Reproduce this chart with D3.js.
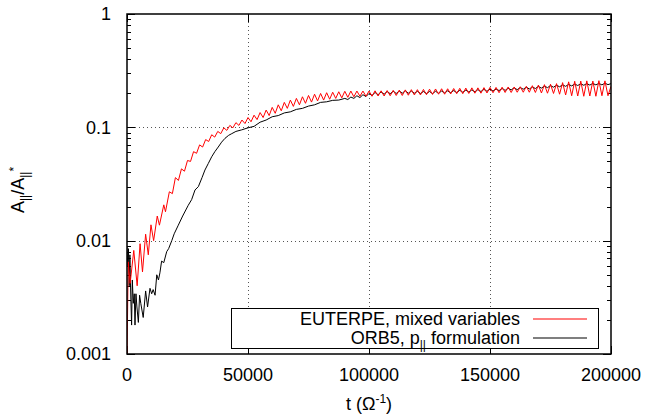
<!DOCTYPE html>
<html>
<head>
<meta charset="utf-8">
<script src="https://cdn.jsdelivr.net/npm/d3@7"></script>
<style>
  body { margin: 0; background: #fff; }
  text { font-family: "Liberation Sans", Arial, Helvetica, sans-serif; fill: #000; }
</style>
</head>
<body>
<div id="chart"></div>
<script>
// values: [t, A||/A||*]
var euterpe = [
  [0, 0.0009], [500, 0.0065], [1300, 0.0042], [2800, 0.0082], [4200, 0.0040],
  [5400, 0.0094], [6400, 0.0053], [7700, 0.0114], [8800, 0.0075], [9900, 0.0138],
  [11000, 0.0100], [12500, 0.0165], [13400, 0.0137], [15200, 0.0207], [15900, 0.0180],
  [17500, 0.027], [18750, 0.026], [20000, 0.036], [21250, 0.034], [22500, 0.043],
  [23750, 0.041], [25000, 0.051], [26250, 0.050], [27500, 0.061], [28750, 0.059],
  [30000, 0.070], [31250, 0.067], [32500, 0.078], [33750, 0.075], [35000, 0.086],
  [36250, 0.082], [37500, 0.092], [38750, 0.088], [40000, 0.099], [41250, 0.094],
  [42500, 0.104], [43750, 0.099], [45000, 0.110], [46250, 0.104], [47500, 0.116],
  [48750, 0.108], [50000, 0.122], [51250, 0.112], [52500, 0.128], [53750, 0.117],
  [55000, 0.135], [56250, 0.122], [57500, 0.142], [58750, 0.127], [60000, 0.150],
  [61250, 0.133], [62500, 0.158], [63750, 0.140], [65000, 0.166], [66250, 0.147],
  [67500, 0.174], [68750, 0.153], [70000, 0.180], [71250, 0.158], [72500, 0.186],
  [73750, 0.163], [75000, 0.191], [76250, 0.167], [77500, 0.196], [78750, 0.171],
  [80000, 0.199], [81250, 0.174], [82500, 0.202], [83750, 0.177], [85000, 0.204],
  [86250, 0.180], [87500, 0.206], [88750, 0.182], [90000, 0.208], [91250, 0.184],
  [92500, 0.209], [93750, 0.186], [95000, 0.209], [96250, 0.188], [97500, 0.209],
  [98750, 0.188], [100000, 0.209], [101250, 0.188], [102500, 0.210], [103750, 0.189],
  [105000, 0.210], [106250, 0.189], [107500, 0.211], [108750, 0.190], [110000, 0.212],
  [111250, 0.191], [112500, 0.213], [113750, 0.191], [115000, 0.214], [116250, 0.192],
  [117500, 0.215], [118750, 0.193], [120000, 0.215], [121250, 0.193], [122500, 0.216],
  [123750, 0.194], [125000, 0.217], [126250, 0.195], [127500, 0.218], [128750, 0.196],
  [130000, 0.219], [131250, 0.196], [132500, 0.219], [133750, 0.197], [135000, 0.220],
  [136250, 0.198], [137500, 0.221], [138750, 0.198], [140000, 0.222], [141250, 0.199],
  [142500, 0.223], [143750, 0.200], [145000, 0.223], [146250, 0.200], [147500, 0.224],
  [148750, 0.201], [150000, 0.225], [151250, 0.202], [152500, 0.225], [153750, 0.202],
  [155000, 0.226], [156250, 0.203], [157500, 0.227], [158750, 0.203], [160000, 0.227],
  [161250, 0.204], [162500, 0.228], [163750, 0.204], [165000, 0.230], [166250, 0.204],
  [167500, 0.233], [168750, 0.203], [170000, 0.236], [171250, 0.201], [172500, 0.238],
  [173750, 0.200], [175000, 0.240], [176250, 0.199], [177500, 0.243], [178750, 0.196],
  [180000, 0.248], [181250, 0.193], [182500, 0.252], [183750, 0.190], [185000, 0.255],
  [186250, 0.189], [187500, 0.256], [188750, 0.188], [190000, 0.257], [191250, 0.189],
  [192500, 0.256], [193750, 0.188], [195000, 0.258], [196250, 0.190], [197500, 0.257],
  [198750, 0.190], [200000, 0.230]
];

var orb5 = [
  [0, 0.0090], [300, 0.0060], [600, 0.0085], [900, 0.0040], [1200, 0.0075],
  [1600, 0.0030], [1900, 0.0018], [2200, 0.0045], [2600, 0.0028], [3000, 0.0034],
  [3300, 0.0018], [3700, 0.0034], [4100, 0.0026], [4700, 0.0019], [5200, 0.0033],
  [5700, 0.0028], [6700, 0.0021], [7700, 0.0036], [8500, 0.0026], [9500, 0.0038],
  [10200, 0.0034], [10800, 0.0037], [11600, 0.0033], [12300, 0.0050], [13000, 0.0045],
  [13600, 0.0052], [14300, 0.0066], [15200, 0.0064], [16400, 0.0080], [17200, 0.0085],
  [18500, 0.0100], [19500, 0.0115], [21200, 0.0137], [23000, 0.0165], [25300, 0.0205],
  [26700, 0.023], [28100, 0.028], [29500, 0.030], [31000, 0.036], [32200, 0.042],
  [33600, 0.048], [35000, 0.055], [36300, 0.061], [37700, 0.067], [39100, 0.074],
  [40500, 0.080], [42000, 0.085], [43300, 0.088], [45000, 0.092], [47400, 0.095],
  [50000, 0.099], [52500, 0.102], [55000, 0.111], [57500, 0.116], [60000, 0.124],
  [62500, 0.127], [65000, 0.134], [67500, 0.137], [70000, 0.144], [72500, 0.147],
  [75000, 0.154], [77500, 0.158], [80000, 0.166], [82500, 0.168], [85000, 0.173],
  [87500, 0.174], [90000, 0.180], [91250, 0.176], [92500, 0.185], [93750, 0.180],
  [95000, 0.190], [96250, 0.183], [97500, 0.194], [98750, 0.187], [100000, 0.199],
  [101250, 0.191], [102500, 0.203], [103750, 0.194], [105000, 0.205], [106250, 0.196],
  [107500, 0.207], [108750, 0.198], [110000, 0.208], [111250, 0.199], [112500, 0.209],
  [113750, 0.200], [115000, 0.210], [116250, 0.200], [117500, 0.209], [118750, 0.200],
  [120000, 0.208], [121250, 0.199], [122500, 0.207], [123750, 0.199], [125000, 0.207],
  [126250, 0.199], [127500, 0.208], [128750, 0.200], [130000, 0.209], [131250, 0.201],
  [132500, 0.210], [133750, 0.202], [135000, 0.211], [136250, 0.203], [137500, 0.212],
  [138750, 0.204], [140000, 0.213], [141250, 0.205], [142500, 0.214], [143750, 0.206],
  [145000, 0.215], [146250, 0.207], [147500, 0.216], [148750, 0.208], [150000, 0.217],
  [151250, 0.209], [152500, 0.218], [153750, 0.211], [155000, 0.220], [156250, 0.212],
  [157500, 0.221], [158750, 0.214], [160000, 0.223], [161250, 0.215], [162500, 0.224],
  [163750, 0.217], [165000, 0.226], [166250, 0.218], [167500, 0.227], [168750, 0.220],
  [170000, 0.229], [171250, 0.222], [172500, 0.231], [173750, 0.224], [175000, 0.233],
  [176250, 0.226], [177500, 0.235], [178750, 0.228], [180000, 0.237], [181250, 0.230],
  [182500, 0.239], [183750, 0.232], [185000, 0.241], [186250, 0.234], [187500, 0.242],
  [188750, 0.235], [190000, 0.243], [191250, 0.236], [192500, 0.244], [193750, 0.237],
  [195000, 0.244], [196250, 0.237], [197500, 0.245], [198750, 0.238], [200000, 0.243]
];

var xTicks = [0, 50000, 100000, 150000, 200000];
var yTicks = [0.001, 0.01, 0.1, 1];
var yTickLabels = ['0.001', '0.01', '0.1', '1'];
var seriesNames = ['EUTERPE, mixed variables', 'ORB5, p'];
var seriesColors = ['#ff0000', '#000000'];

var margin = {left: 127, top: 14, right: 37, bottom: 63};
var W = 648, H = 417;
var w = W - margin.left - margin.right;
var h = H - margin.top - margin.bottom;

var svg = d3.select('#chart').append('svg').attr('width', W).attr('height', H);
var g = svg.append('g').attr('transform', 'translate(' + margin.left + ',' + margin.top + ')');

var x = d3.scaleLinear().domain([0, 200000]).range([0, w]);
var y = d3.scaleLog().domain([0.001, 1]).range([h, 0]);

// minor log ticks 2..9 in each decade
var minor = [];
[0.001, 0.01, 0.1].forEach(function(d) {
  for (var k = 2; k < 10; k++) minor.push(d * k);
});

// grid (only inner majors)
g.selectAll('.gx').data(xTicks.slice(1, -1)).enter().append('line')
  .attr('x1', function(d) { return Math.round(x(d)) + 0.5; })
  .attr('x2', function(d) { return Math.round(x(d)) + 0.5; })
  .attr('y1', 0).attr('y2', h)
  .attr('stroke', '#555').attr('stroke-dasharray', '1,3');
g.selectAll('.gy').data(yTicks.slice(1, -1)).enter().append('line')
  .attr('y1', function(d) { return Math.round(y(d)) + 0.5; })
  .attr('y2', function(d) { return Math.round(y(d)) + 0.5; })
  .attr('x1', 0).attr('x2', w)
  .attr('stroke', '#555').attr('stroke-dasharray', '1,3');

// tick marks, mirrored, pointing inward
var major = 8, small = 4;
function tickLines(data, len, axis) {
  data.forEach(function(d) {
    if (axis === 'y') {
      var p = Math.round(y(d)) + 0.5;
      g.append('line').attr('x1', 0).attr('x2', len).attr('y1', p).attr('y2', p).attr('stroke', '#000');
      g.append('line').attr('x1', w).attr('x2', w - len).attr('y1', p).attr('y2', p).attr('stroke', '#000');
    } else {
      var q = Math.round(x(d)) + 0.5;
      g.append('line').attr('y1', h).attr('y2', h - len).attr('x1', q).attr('x2', q).attr('stroke', '#000');
      g.append('line').attr('y1', 0).attr('y2', len).attr('x1', q).attr('x2', q).attr('stroke', '#000');
    }
  });
}
tickLines(yTicks, major, 'y');
tickLines(minor, small, 'y');
tickLines(xTicks, major, 'x');

// curves
svg.append('clipPath').attr('id', 'clip').append('rect').attr('width', w).attr('height', h);
var line = d3.line().x(function(d) { return x(d[0]); }).y(function(d) { return y(d[1]); });
var curves = g.append('g').attr('clip-path', 'url(#clip)');
curves.append('path').datum(orb5).attr('d', line)
  .attr('fill', 'none').attr('stroke', seriesColors[1]).attr('stroke-width', 1);
curves.append('path').datum(euterpe).attr('d', line)
  .attr('fill', 'none').attr('stroke', seriesColors[0]).attr('stroke-width', 1);

// legend box (white, hides grid)
var lg = g.append('g');
lg.append('rect')
  .attr('x', 231.5 - margin.left).attr('y', 308.5 - margin.top)
  .attr('width', 367).attr('height', 40)
  .attr('fill', '#fff').attr('stroke', '#000');

var rowY = [319, 338];
lg.selectAll('.key').data(seriesColors).enter().append('line')
  .attr('x1', 533 - margin.left).attr('x2', 587 - margin.left)
  .attr('y1', function(d, i) { return rowY[i] - margin.top; })
  .attr('y2', function(d, i) { return rowY[i] - margin.top; })
  .attr('stroke', function(d) { return d; }).attr('stroke-width', 1.2);

lg.append('text').attr('x', 520 - margin.left).attr('y', rowY[0] - margin.top)
  .attr('dy', '0.35em').attr('text-anchor', 'end').style('font-size', '18px').text(seriesNames[0]);
var t2 = lg.append('text').attr('x', 520 - margin.left).attr('y', rowY[1] - margin.top)
  .attr('dy', '0.35em').attr('text-anchor', 'end').style('font-size', '18px');
t2.append('tspan').text(seriesNames[1]);
t2.append('tspan').attr('dy', 5).style('font-size', '12px').text('||');
t2.append('tspan').attr('dy', -5).text(' formulation');

// frame
g.append('rect').attr('x', 0).attr('y', 0).attr('width', w).attr('height', h)
  .attr('fill', 'none').attr('stroke', '#000').attr('stroke-width', 1.5);

// tick labels
g.selectAll('.xl').data(xTicks).enter().append('text')
  .attr('x', function(d) { return x(d); }).attr('y', h + 27)
  .attr('text-anchor', 'middle').style('font-size', '18px')
  .text(function(d) { return d; });
g.selectAll('.yl').data(yTicks).enter().append('text')
  .attr('x', -16).attr('y', function(d) { return y(d); }).attr('dy', '0.35em')
  .attr('text-anchor', 'end').style('font-size', '18px')
  .text(function(d, i) { return yTickLabels[i]; });

// axis titles
var xt = svg.append('text').attr('x', 369).attr('y', 410).attr('text-anchor', 'middle').style('font-size', '18px');
xt.append('tspan').text('t (\u03A9');
xt.append('tspan').attr('dy', -7).style('font-size', '12px').text('-1');
xt.append('tspan').attr('dy', 7).text(')');

var yt = svg.append('text').attr('transform', 'translate(24,190) rotate(-90)')
  .attr('text-anchor', 'middle').style('font-size', '18px');
yt.append('tspan').text('A');
yt.append('tspan').attr('dy', 5).style('font-size', '12px').text('||');
yt.append('tspan').attr('dy', -5).text('/A');
yt.append('tspan').attr('dy', 5).style('font-size', '12px').text('||');
yt.append('tspan').attr('dy', -11).style('font-size', '12px').text('*');
</script>
</body>
</html>
